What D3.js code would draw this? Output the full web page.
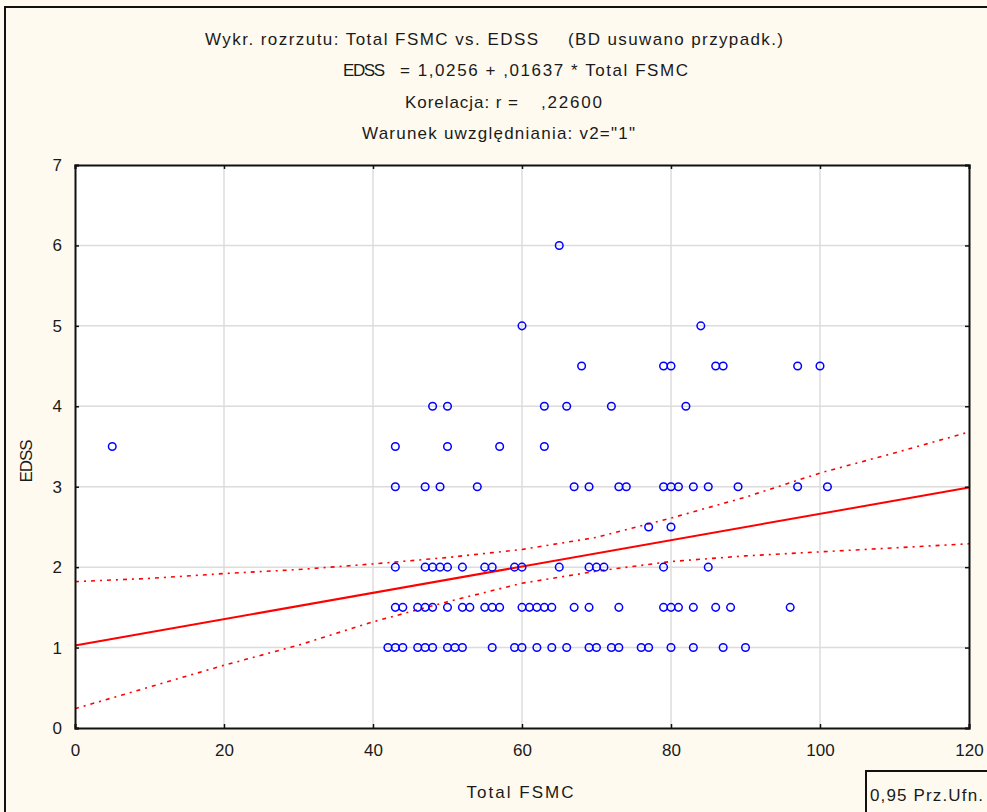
<!DOCTYPE html>
<html>
<head>
<meta charset="utf-8">
<script src="https://cdn.jsdelivr.net/npm/d3@7"></script>
<style>
  body { margin: 0; background: #fffaf0; }
  svg { display: block; }
  text { font-family: "Liberation Sans", Arial, sans-serif; fill: #1a1a1a; }
</style>
</head>
<body>
<div id="chart"></div>
<script>
var svgWidth = 987;
var svgHeight = 812;

var margin = { top: 165, right: 18, bottom: 84, left: 75 };
var width = svgWidth - margin.left - margin.right;
var height = svgHeight - margin.top - margin.bottom;

// title lines (left part, right part)
var titleLines = [
  ["Wykr. rozrzutu: Total FSMC vs. EDSS", "(BD usuwano przypadk.)"],
  ["EDSS", "= 1,0256 + ,01637 * Total FSMC"],
  ["Korelacja: r =", ",22600"],
  ["Warunek uwzględniania: v2=\"1\"", ""]
];

var xTicks = [0, 20, 40, 60, 80, 100, 120];
var yTicks = [0, 1, 2, 3, 4, 5, 6, 7];

// Total FSMC values, one array per EDSS level
var fsmcEdss60 = [65];
var fsmcEdss50 = [60, 84];
var fsmcEdss45 = [68, 79, 80, 86, 87, 97, 100];
var fsmcEdss40 = [48, 50, 63, 66, 72, 82];
var fsmcEdss35 = [5, 43, 50, 57, 63];
var fsmcEdss30 = [43, 47, 49, 54, 67, 69, 73, 74, 79, 80, 81, 83, 85, 89, 97, 101];
var fsmcEdss25 = [77, 80];
var fsmcEdss20 = [43, 47, 48, 49, 50, 52, 55, 56, 59, 60, 65, 69, 70, 71, 79, 85];
var fsmcEdss15 = [43, 44, 46, 47, 48, 50, 52, 53, 55, 56, 57, 60, 61, 62, 63, 64, 67, 69, 73, 79, 80, 81, 83, 86, 88, 96];
var fsmcEdss10 = [42, 43, 44, 46, 47, 48, 50, 51, 52, 56, 59, 60, 62, 64, 66, 69, 70, 72, 73, 76, 77, 80, 83, 87, 90];

// regression line coefficients (from the title)
var intercept = 1.0256;
var slope = 0.01637;

// 0.95 confidence band
var bandX = [0, 10, 20, 30, 40, 50, 60, 70, 80, 90, 100, 110, 120];
var bandUpper = [1.82, 1.86, 1.92, 1.97, 2.04, 2.12, 2.22, 2.37, 2.61, 2.87, 3.17, 3.42, 3.68];
var bandLower = [0.24, 0.51, 0.78, 1.03, 1.32, 1.57, 1.80, 1.95, 2.07, 2.14, 2.19, 2.24, 2.29];

var groups = [
  [6, fsmcEdss60], [5, fsmcEdss50], [4.5, fsmcEdss45], [4, fsmcEdss40], [3.5, fsmcEdss35],
  [3, fsmcEdss30], [2.5, fsmcEdss25], [2, fsmcEdss20], [1.5, fsmcEdss15], [1, fsmcEdss10]
];
var points = [];
groups.forEach(function(g) {
  g[1].forEach(function(x) { points.push({ fsmc: x, edss: g[0] }); });
});

var svg = d3.select("#chart")
  .append("svg")
  .attr("width", svgWidth)
  .attr("height", svgHeight);

// outer frame
svg.append("rect")
  .attr("x", 5).attr("y", 7)
  .attr("width", svgWidth + 10).attr("height", svgHeight + 10)
  .attr("fill", "#fffaf0")
  .attr("stroke", "#111")
  .attr("stroke-width", 2);

// titles: x position and width of every piece, as in the original layout
var titleY = [45, 76, 108, 139];
var titleX = [[205, 568], [343, 400], [405, 541], [362, 0]];
var titleW = [[333, 215], [42, 288], [113, 61], [273, 0]];
titleLines.forEach(function(line, i) {
  line.forEach(function(t, j) {
    if (!t) return;
    svg.append("text")
      .attr("x", titleX[i][j])
      .attr("y", titleY[i])
      .attr("font-size", "17px")
      .attr("textLength", titleW[i][j])
      .attr("lengthAdjust", "spacing")
      .text(t);
  });
});

var chartGroup = svg.append("g")
  .attr("transform", `translate(${margin.left}, ${margin.top})`);

var xLinearScale = d3.scaleLinear().domain([0, 120]).range([0, width]);
var yLinearScale = d3.scaleLinear().domain([0, 7]).range([height, 0]);

// plot background
chartGroup.append("rect")
  .attr("width", width)
  .attr("height", height)
  .attr("fill", "#ffffff");

// grid lines
chartGroup.append("g")
  .selectAll("line")
  .data(xTicks.slice(1, -1))
  .enter()
  .append("line")
  .attr("x1", d => xLinearScale(d)).attr("x2", d => xLinearScale(d))
  .attr("y1", 0).attr("y2", height)
  .attr("stroke", "#dcdcdc")
  .attr("stroke-width", 1.5);

chartGroup.append("g")
  .selectAll("line")
  .data(yTicks.slice(1, -1))
  .enter()
  .append("line")
  .attr("y1", d => yLinearScale(d)).attr("y2", d => yLinearScale(d))
  .attr("x1", 0).attr("x2", width)
  .attr("stroke", "#dcdcdc")
  .attr("stroke-width", 1.5);

// confidence band
var bandLine = d3.line()
  .x(d => xLinearScale(d[0]))
  .y(d => yLinearScale(d[1]));

[bandUpper, bandLower].forEach(function(arr) {
  chartGroup.append("path")
    .datum(bandX.map((x, i) => [x, arr[i]]))
    .attr("d", bandLine)
    .attr("fill", "none")
    .attr("stroke", "#ff0000")
    .attr("stroke-width", 1.6)
    .attr("stroke-dasharray", "4,5,2,5");
});

// regression line
chartGroup.append("line")
  .attr("x1", xLinearScale(0))
  .attr("y1", yLinearScale(intercept))
  .attr("x2", xLinearScale(120))
  .attr("y2", yLinearScale(intercept + slope * 120))
  .attr("stroke", "#ff0000")
  .attr("stroke-width", 2);

// points
chartGroup.selectAll("circle")
  .data(points)
  .enter()
  .append("circle")
  .attr("cx", d => xLinearScale(d.fsmc))
  .attr("cy", d => yLinearScale(d.edss))
  .attr("r", 3.8)
  .attr("fill", "none")
  .attr("stroke", "#0000ff")
  .attr("stroke-width", 1.5);

// axes
var bottomAxis = d3.axisBottom(xLinearScale).tickValues(xTicks).tickSize(-4).tickPadding(16);
var leftAxis = d3.axisLeft(yLinearScale).tickValues(yTicks).tickFormat(d3.format("d")).tickSize(-4).tickPadding(13);
var topAxis = d3.axisTop(xLinearScale).tickValues(xTicks).tickSize(-4).tickFormat("");
var rightAxis = d3.axisRight(yLinearScale).tickValues(yTicks).tickSize(-4).tickFormat("");

var xAxis = chartGroup.append("g")
  .attr("transform", `translate(0, ${height})`)
  .call(bottomAxis);
var yAxis = chartGroup.append("g").call(leftAxis);
chartGroup.append("g").call(topAxis);
chartGroup.append("g").attr("transform", `translate(${width}, 0)`).call(rightAxis);

chartGroup.selectAll(".domain").attr("stroke", "#111").attr("stroke-width", 2);
chartGroup.selectAll(".tick line").attr("stroke", "#111").attr("stroke-width", 1.5);
chartGroup.selectAll(".tick text")
  .attr("font-size", "17px")
  .attr("font-family", "Liberation Sans, Arial, sans-serif")
  .attr("fill", "#1a1a1a");

// axis titles
chartGroup.append("text")
  .attr("x", width / 2 - 2)
  .attr("y", height + 70)
  .attr("text-anchor", "middle")
  .attr("font-size", "17px")
  .attr("textLength", 107)
  .attr("lengthAdjust", "spacing")
  .text("Total FSMC");

chartGroup.append("text")
  .attr("transform", "rotate(-90)")
  .attr("x", -(yLinearScale(3.32)))
  .attr("y", -43)
  .attr("text-anchor", "middle")
  .attr("font-size", "17px")
  .attr("textLength", 43)
  .attr("lengthAdjust", "spacing")
  .text("EDSS");

// confidence label box
svg.append("rect")
  .attr("x", 866).attr("y", 771)
  .attr("width", 140).attr("height", 50)
  .attr("fill", "#fffaf0")
  .attr("stroke", "#111")
  .attr("stroke-width", 2);
svg.append("text")
  .attr("x", 870).attr("y", 801)
  .attr("font-size", "17px")
  .attr("textLength", 113)
  .attr("lengthAdjust", "spacing")
  .text("0,95 Prz.Ufn.");
</script>
</body>
</html>
